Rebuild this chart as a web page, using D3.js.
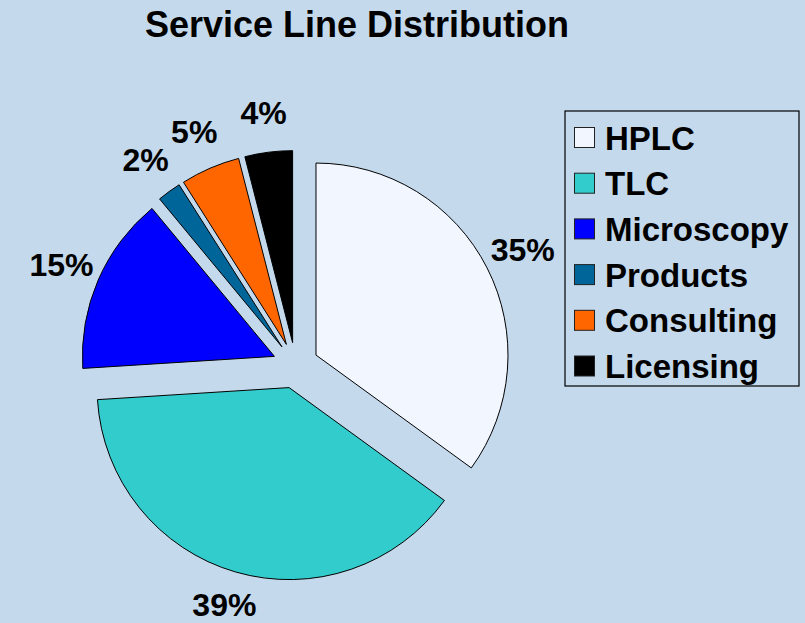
<!DOCTYPE html>
<html lang="en">
<head>
  <meta charset="UTF-8">
  <title>Service Line Distribution</title>
  <script src="https://d3js.org/d3.v7.min.js"></script>
  <style>
    body { margin: 0; background: #c4d9ec; }
    text { font-family: "Liberation Sans", Arial, sans-serif; font-weight: bold; fill: #000; }
  </style>
</head>
<body>
  <svg width="805" height="623"></svg>

  <script>
    // Chart data
    const categories = ["HPLC", "TLC", "Microscopy", "Products", "Consulting", "Licensing"];
    const shares = [35, 39, 15, 2, 5, 4];
    const colors = ["#f2f6fe", "#33cccc", "#0000ff", "#006699", "#ff6600", "#000000"];

    const width = 805;
    const height = 623;
    const cx = 295.5, cy = 365.5;
    const radius = 192;
    const explode = 23;
    const labelRadius = 255;

    const data = categories.map((c, i) => ({ name: c, value: shares[i], color: colors[i] }));

    const svg = d3.select("svg")
      .attr("width", width)
      .attr("height", height);

    svg.append("rect")
      .attr("width", width)
      .attr("height", height)
      .attr("fill", "#c4d9ec");

    // Title
    svg.append("text")
      .attr("x", 357)
      .attr("y", 37)
      .attr("text-anchor", "middle")
      .style("font-size", "36px")
      .text("Service Line Distribution");

    const pie = d3.pie().value(d => d.value).sort(null);
    const arcs = pie(data);
    const arc = d3.arc().innerRadius(0).outerRadius(radius);

    const g = svg.append("g").attr("transform", `translate(${cx},${cy})`);

    const mid = d => (d.startAngle + d.endAngle) / 2;

    // Slices, each pulled out along its middle angle
    g.selectAll(".slice")
      .data(arcs)
      .join("path")
      .attr("class", "slice")
      .attr("d", arc)
      .attr("transform", d => `translate(${Math.sin(mid(d)) * explode},${-Math.cos(mid(d)) * explode})`)
      .attr("fill", d => d.data.color)
      .attr("stroke", "#000")
      .attr("stroke-width", 1);

    // Percent labels (kept inside the picture at the bottom)
    const labelFont = 32;
    const maxBaseline = height - cy - 0.22 * labelFont;
    g.selectAll(".label")
      .data(arcs)
      .join("text")
      .attr("class", "label")
      .attr("x", d => Math.sin(mid(d)) * labelRadius)
      .attr("y", d => Math.min(-Math.cos(mid(d)) * labelRadius + 0.36 * labelFont, maxBaseline))
      .attr("text-anchor", "middle")
      .style("font-size", labelFont + "px")
      .text(d => d.data.value + "%");

    // Legend
    const legend = svg.append("g").attr("transform", "translate(565,111)");
    legend.append("rect")
      .attr("width", 234)
      .attr("height", 275)
      .attr("fill", "none")
      .attr("stroke", "#000")
      .attr("stroke-width", 1.2);

    const y = d3.scalePoint()
      .domain(categories)
      .range([26.5, 255]);

    const items = legend.selectAll(".item")
      .data(data)
      .join("g")
      .attr("class", "item")
      .attr("transform", d => `translate(0,${y(d.name)})`);

    items.append("rect")
      .attr("x", 9.5)
      .attr("y", -10)
      .attr("width", 20)
      .attr("height", 20)
      .attr("fill", d => d.color)
      .attr("stroke", "#222")
      .attr("stroke-width", 1);

    items.append("text")
      .attr("x", 40)
      .attr("y", 12)
      .style("font-size", "33px")
      .text(d => d.name);
  </script>
</body>
</html>
